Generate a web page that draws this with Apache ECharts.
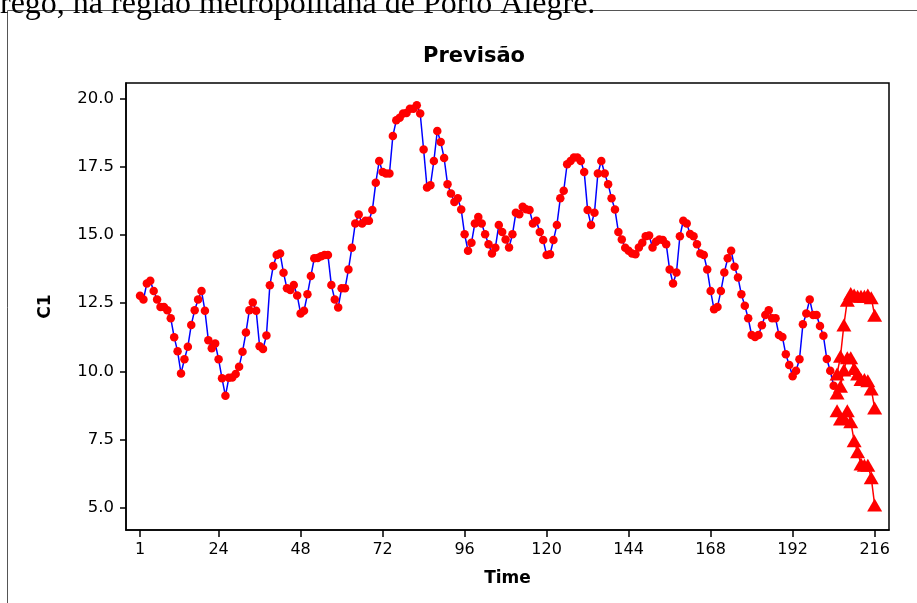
<!DOCTYPE html>
<html>
<head>
<meta charset="utf-8">
<script src="https://cdn.jsdelivr.net/npm/echarts@6/dist/echarts.min.js"></script>
<style>
html,body{margin:0;padding:0;background:#fff;}
#chart{width:917px;height:603px;}
</style>
</head>
<body>
<div id="chart"></div>
<script>
// ---- data ----
const timeTicks = [1, 24, 48, 72, 96, 120, 144, 168, 192, 216];
const yTicks = [5, 7.5, 10, 12.5, 15, 17.5, 20];
const observed = [
  12.77, 12.63, 13.22, 13.32, 12.94, 12.63, 12.36, 12.36, 12.24, 11.94,
  11.25, 10.73, 9.92, 10.44, 10.90, 11.70, 12.24, 12.63, 12.94, 12.22,
  11.14, 10.84, 11.02, 10.44, 9.74, 9.10, 9.76, 9.77, 9.90, 10.17,
  10.72, 11.42, 12.24, 12.52, 12.22, 10.92, 10.82, 11.31, 13.15, 13.86,
  14.26, 14.32, 13.61, 13.04, 12.98, 13.16, 12.78, 12.12, 12.22, 12.82,
  13.49, 14.14, 14.15, 14.22, 14.26, 14.26, 13.16, 12.63, 12.34, 13.04,
  13.04, 13.73, 14.53, 15.42, 15.75, 15.42, 15.52, 15.52, 15.91, 16.91,
  17.71, 17.31, 17.25, 17.25, 18.63, 19.20, 19.30, 19.45, 19.47, 19.63,
  19.63, 19.75, 19.45, 18.13, 16.74, 16.82, 17.71, 18.81, 18.41, 17.82,
  16.86, 16.52, 16.21, 16.34, 15.93, 15.02, 14.42, 14.71, 15.42, 15.66,
  15.42, 15.02, 14.66, 14.32, 14.53, 15.36, 15.11, 14.83, 14.54, 15.02,
  15.81, 15.76, 16.03, 15.94, 15.91, 15.42, 15.52, 15.11, 14.81, 14.26,
  14.29, 14.81, 15.36, 16.34, 16.62, 17.59, 17.71, 17.84, 17.84, 17.71,
  17.31, 15.91, 15.36, 15.81, 17.25, 17.71, 17.25, 16.86, 16.34, 15.93,
  15.11, 14.83, 14.53, 14.42, 14.32, 14.29, 14.54, 14.71, 14.95, 14.98,
  14.54, 14.75, 14.83, 14.81, 14.66, 13.73, 13.22, 13.62, 14.95, 15.52,
  15.42, 15.03, 14.95, 14.66, 14.32, 14.26, 13.73, 12.94, 12.27, 12.36,
  12.94, 13.62, 14.14, 14.42, 13.83, 13.44, 12.82, 12.40, 11.94, 11.33,
  11.26, 11.33, 11.69, 12.06, 12.24, 11.94, 11.94, 11.33, 11.26, 10.62,
  10.23, 9.82, 10.02, 10.44, 11.72, 12.12, 12.63, 12.06, 12.06, 11.66,
  11.30, 10.45, 10.02, 9.47
];
const forecastTime = [205, 206, 207, 208, 209, 210, 211, 212, 213, 214, 215, 216];
const forecast = [9.20, 9.45, 10.05, 10.50, 10.50, 10.10, 9.90, 9.70, 9.70, 9.65, 9.35, 8.65];
const lower95 = [8.55, 8.25, 8.30, 8.55, 8.15, 7.45, 7.05, 6.60, 6.55, 6.55, 6.10, 5.10];
const upper95 = [9.90, 10.55, 11.70, 12.60, 12.85, 12.80, 12.75, 12.75, 12.75, 12.80, 12.70, 12.05];

// ---- build ----
const obsData = observed.map((v, i) => [i + 1, v]);
const pair = arr => forecastTime.map((t, i) => [t, arr[i]]);
const FONT = '"DejaVu Sans", Verdana, sans-serif';

const chart = echarts.init(document.getElementById('chart'), null, {renderer: 'canvas'});
const triStyle = (name, arr) => ({
  name: name, type: 'line', data: pair(arr),
  symbol: 'triangle', symbolSize: [15, 13],
  lineStyle: {color: '#ff0000', width: 1.5},
  itemStyle: {color: '#ff0000'},
  animation: false, z: 4
});

chart.setOption({
  animation: false,
  backgroundColor: '#ffffff',
  title: {
    text: 'Previsão', left: 469, top: 41, textAlign: 'center',
    textStyle: {fontFamily: FONT, fontWeight: 'bold', fontSize: 21, color: '#000'}
  },
  grid: {
    left: 126, top: 83, width: 763, height: 447,
    show: true, borderColor: '#000', borderWidth: 1.5, backgroundColor: 'transparent'
  },
  xAxis: {
    type: 'value', min: -3.1, max: 220.2,
    name: 'Time', nameLocation: 'middle', nameGap: 40,
    nameTextStyle: {fontFamily: FONT, fontWeight: 'bold', fontSize: 17, color: '#000'},
    axisLine: {show: true, onZero: false, lineStyle: {color: '#000', width: 1.5}},
    axisTick: {show: true, length: 7, lineStyle: {color: '#000', width: 1.5}, customValues: timeTicks},
    axisLabel: {customValues: timeTicks, fontFamily: FONT, fontSize: 16, color: '#000', margin: 12},
    splitLine: {show: false}
  },
  yAxis: {
    type: 'value', min: 4.18, max: 20.57,
    name: 'C1', nameLocation: 'middle', nameGap: 72,
    nameTextStyle: {fontFamily: FONT, fontWeight: 'bold', fontSize: 17, color: '#000'},
    axisLine: {show: true, onZero: false, lineStyle: {color: '#000', width: 1.5}},
    axisTick: {show: true, length: 6, lineStyle: {color: '#000', width: 1.5}, customValues: yTicks},
    axisLabel: {customValues: yTicks, fontFamily: FONT, fontSize: 16.5, color: '#000', margin: 12,
      formatter: v => Number(v).toFixed(1)},
    splitLine: {show: false}
  },
  graphic: [
    {type: 'rect', silent: true, z: 0,
      shape: {x: 7.5, y: 10.5, width: 1000, height: 700},
      style: {fill: 'none', stroke: '#555', lineWidth: 1}},
    {type: 'text', silent: true, z: 10, left: 0, top: -11,
      style: {text: 'rego, na região metropolitana de Porto Alegre.',
        font: '32px "Liberation Serif", "Times New Roman", serif', fill: '#000'}}
  ],
  series: [
    {
      name: 'C1', type: 'line', data: obsData,
      symbol: 'circle', symbolSize: 8.5, showAllSymbol: true,
      lineStyle: {color: '#0000ff', width: 1.5},
      itemStyle: {color: '#ff0000'},
      animation: false, z: 3
    },
    triStyle('Previsão', forecast),
    triStyle('Inferior', lower95),
    triStyle('Superior', upper95)
  ]
});
</script>
</body>
</html>
